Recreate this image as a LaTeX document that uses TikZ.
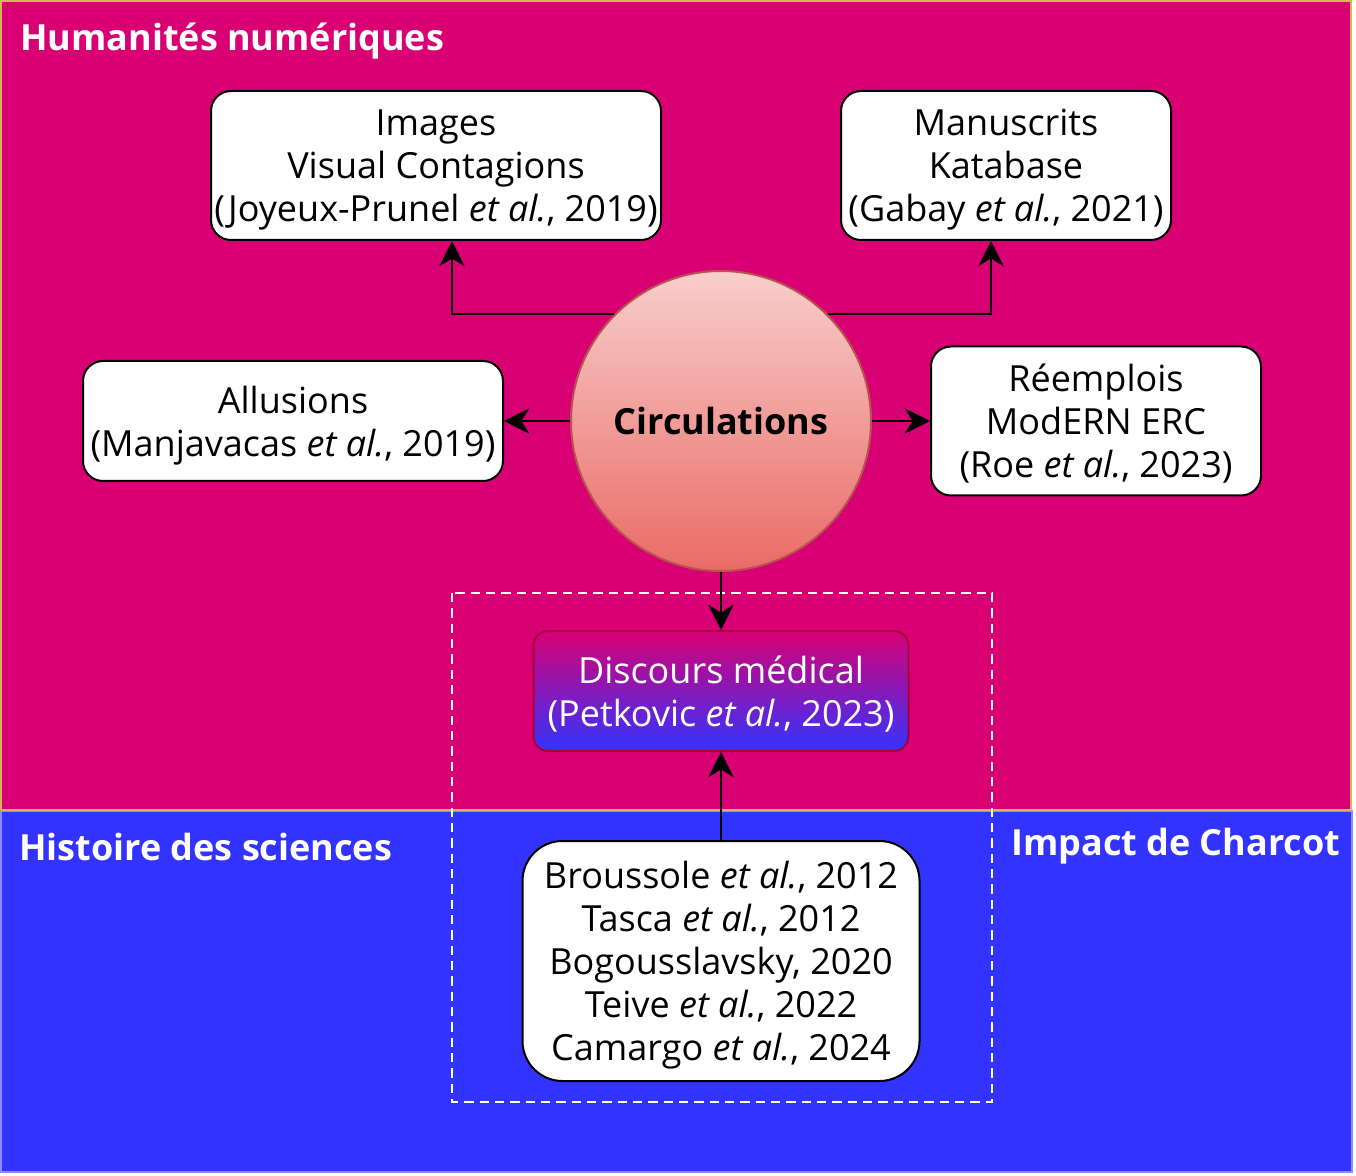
\documentclass[tikz,border=0pt]{standalone}
\usepackage{fontspec}
\setmainfont{Open Sans}
\usepackage{tikz}
\usetikzlibrary{arrows.meta,positioning}

\definecolor{pinkbg}{HTML}{D80073}
\definecolor{bluebg}{HTML}{3333FF}
\definecolor{goldline}{HTML}{D6B656}
\definecolor{blueline}{HTML}{8C8CFF}
\definecolor{circtop}{HTML}{F8CECC}
\definecolor{circbot}{HTML}{EA6B66}
\definecolor{circline}{HTML}{B85450}
\definecolor{discline}{HTML}{A50040}

\tikzset{
  txt/.style={font=\fontsize{27}{32.25}\selectfont},
  box/.style={txt,draw=black,line width=1.5pt,fill=white,rounded corners=15pt,
    align=center,inner sep=0pt,text depth=0pt},
  zone/.style={font=\fontsize{27}{32}\selectfont\bfseries,text=white,inner sep=0pt},
  arr/.style={-{Stealth[length=19pt,width=19pt,inset=6pt]},line width=1.5pt},
}

\begin{document}
\begin{tikzpicture}[x=0.75pt,y=-0.75pt]
    \useasboundingbox (0,0) rectangle (1356,1176);
    % backgrounds
    \fill[bluebg,draw=blueline,line width=1pt] (1,811) rectangle (1352,1172);
    \fill[pinkbg,draw=goldline,line width=1.5pt] (1,1) rectangle (1351,810);
    \node[zone,anchor=base west] (hn)  at (20,51)   {Humanités numériques};
    \node[zone,anchor=base west] (hs)  at (19,860)  {Histoire des sciences};
    \node[zone,anchor=base west] (ic)  at (1011,855) {Impact de Charcot};
    \draw[white,line width=1.5pt,dash pattern=on 7pt off 4.5pt] (452,593) rectangle (992,1102);

    % nodes
    \node[txt,circle,minimum size=225pt,inner sep=0pt,top color=circtop,bottom color=circbot,
          draw=circline,line width=1.5pt,font=\fontsize{27}{32}\selectfont\bfseries] (circ) at (721,421) {Circulations};
    \node[box,minimum width=337.5pt,minimum height=111.75pt] (img)  at (436,165.5)
        {Images\\Visual Contagions\\(Joyeux-Prunel \textit{et al.}, 2019)};
    \node[box,minimum width=247.5pt,minimum height=111.75pt] (manu) at (1006,165.5)
        {Manuscrits\\Katabase\\(Gabay \textit{et al.}, 2021)};
    \node[box,minimum width=315pt,minimum height=90pt] (allu) at (293,421)
        {Allusions\\(Manjavacas \textit{et al.}, 2019)};
    \node[box,minimum width=247.5pt,minimum height=111.75pt] (reemp) at (1096,421)
        {Réemplois\\ModERN ERC\\(Roe \textit{et al.}, 2023)};
    \node[box,minimum width=281.25pt,minimum height=90pt,rounded corners=11pt,text=white,
          top color=pinkbg,bottom color=bluebg,draw=discline] (disc) at (721,691)
        {Discours médical\\(Petkovic \textit{et al.}, 2023)};
    \node[box,minimum width=297.75pt,minimum height=180pt,rounded corners=30pt] (refs) at (721,961)
        {Broussole \textit{et al.}, 2012\\Tasca \textit{et al.}, 2012\\Bogousslavsky, 2020\\
         Teive \textit{et al.}, 2022\\Camargo \textit{et al.}, 2024};

    % connectors
    \draw[arr] (circ.135) -| ([xshift=12pt]img.south);
    \draw[arr] (circ.45)  -| ([xshift=-11.25pt]manu.south);
    \draw[arr] (circ.west) -- (allu.east);
    \draw[arr] (circ.east) -- (reemp.west);
    \draw[arr] (circ.south) -- (disc.north);
    \draw[arr] (refs.north) -- (disc.south);
\end{tikzpicture}
\end{document}
